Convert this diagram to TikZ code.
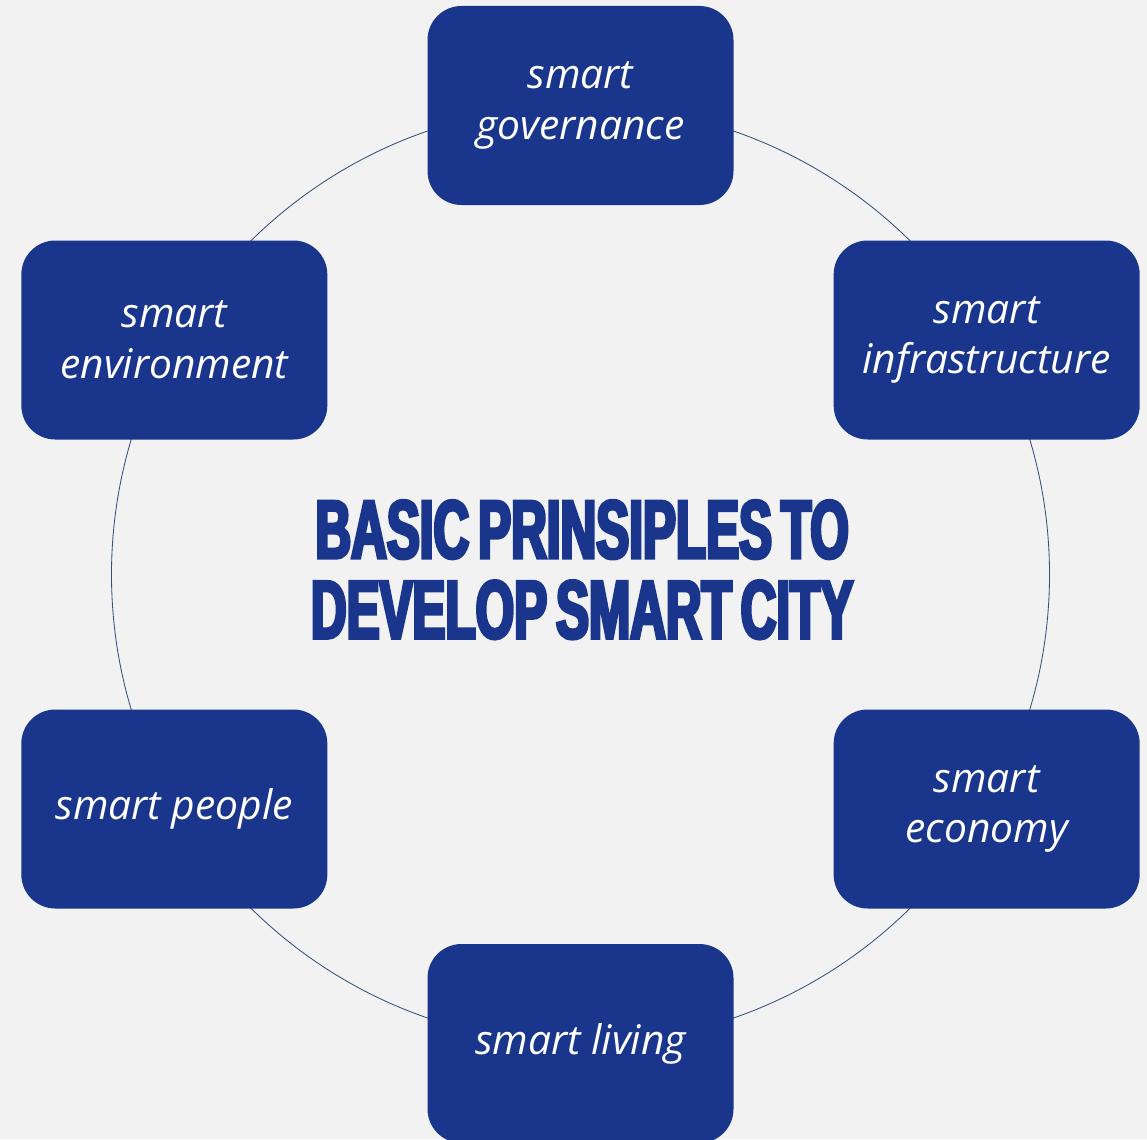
\documentclass[tikz,border=0pt]{standalone}
\usepackage{fontspec}
\usepackage{tikz}
\usetikzlibrary{calc}
\usetikzlibrary{positioning}
\setsansfont{Open Sans}
\newfontfamily\titleFont{Liberation Sans Bold}[FakeStretch=0.6, FakeBold=4, WordSpace=0.65]
\definecolor{pillarBlue}{HTML}{19368C}
\definecolor{ringBlue}{HTML}{34517A}
\definecolor{paperGray}{HTML}{F2F2F2}

\begin{document}
\begin{tikzpicture}
            % Set primary nodes
            \tikzset{
                pillarNode/.style={
                        rectangle,
                        rounded corners=0.85cm,
                        fill=pillarBlue,
                        minimum width=7.65cm,
                        minimum height=4.975cm,
                        text=white,
                        align=center,
                        font=\sffamily\itshape\fontsize{29}{36}\selectfont
                    }
            }
            \tikzset{
                titleNode/.style={
                        text=pillarBlue,
                        align=center,
                        font=\titleFont\fontsize{58.6}{57}\selectfont
                    }
            }
            % Background and frame
            \fill[paperGray] (-14.5125,-14.1125) rectangle (14.1625,14.3625);
            \useasboundingbox (-14.5125,-14.1125) rectangle (14.1625,14.3625);
            % Ring
            \coordinate (hub) at (0,0);
            \draw[ringBlue, line width=0.6pt] (hub) circle (11.725);
            % Placing nodes
            \node[titleNode](title) at ($(hub)+(0.04,0.12)$){BASIC PRINSIPLES TO\\DEVELOP SMART CITY};
            \node[pillarNode](governance) at ($(hub)+(90:11.725)$){smart\\governance};
            \node[pillarNode](infrastructure) at ($(hub)+(30:11.725)$){smart\\infrastructure};
            \node[pillarNode](economy) at ($(hub)+(-30:11.725)$){smart\\economy};
            \node[pillarNode](living) at ($(hub)+(-90:11.725)$){smart living};
            \node[pillarNode](people) at ($(hub)+(210:11.725)$){smart people};
            \node[pillarNode](environment) at ($(hub)+(150:11.725)$){smart\\environment};

\end{tikzpicture}
\end{document}
